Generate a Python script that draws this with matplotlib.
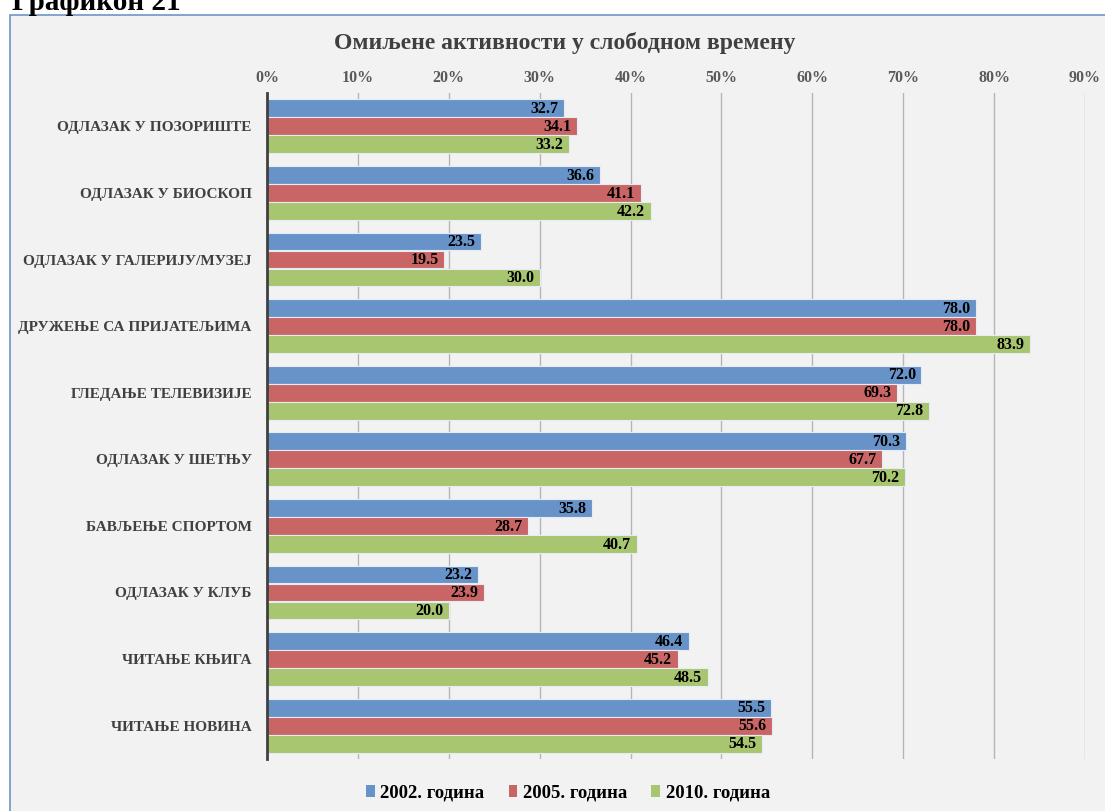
import matplotlib
matplotlib.use("Agg")
import matplotlib.pyplot as plt
from matplotlib.patches import Rectangle, Patch
from matplotlib.ticker import FuncFormatter
import numpy as np

plt.rcParams['font.family'] = ['Liberation Serif', 'DejaVu Serif']

categories = ["ОДЛАЗАК У ПОЗОРИШТЕ", "ОДЛАЗАК У БИОСКОП", "ОДЛАЗАК У ГАЛЕРИЈУ/МУЗЕЈ",
              "ДРУЖЕЊЕ СА ПРИЈАТЕЉИМА", "ГЛЕДАЊЕ ТЕЛЕВИЗИЈЕ", "ОДЛАЗАК У ШЕТЊУ",
              "БАВЉЕЊЕ СПОРТОМ", "ОДЛАЗАК У КЛУБ", "ЧИТАЊЕ КЊИГА", "ЧИТАЊЕ НОВИНА"]
series_names = ["2002. година", "2005. година", "2010. година"]
v2002 = [32.7, 36.6, 23.5, 78.0, 72.0, 70.3, 35.8, 23.2, 46.4, 55.5]
v2005 = [34.1, 41.1, 19.5, 78.0, 69.3, 67.7, 28.7, 23.9, 45.2, 55.6]
v2010 = [33.2, 42.2, 30.0, 83.9, 72.8, 70.2, 40.7, 20.0, 48.5, 54.5]
xticks = [0, 10, 20, 30, 40, 50, 60, 70, 80, 90]
title = "Омиљене активности у слободном времену"
heading = "Графикон 21"

colors = ["#6893c8", "#c96565", "#a8c56f"]

W, H = 1105, 811
fig = plt.figure(figsize=(W / 100, H / 100), dpi=100)
fig.patch.set_facecolor("white")

# chart box
box = Rectangle((10 / W, -0.05), 1.2, (H - 15) / H + 0.05, transform=fig.transFigure,
                facecolor="#f2f2f2", edgecolor="#6f95c9", linewidth=1.2, zorder=-5)
fig.patches.append(box)

fig.text(12 / W, 1 - 10 / H, heading, fontsize=21, fontweight="bold", color="black",
         ha="left", va="baseline")
fig.text(565 / W, 1 - 43 / H, title, fontsize=17, fontweight="bold", color="#404040",
         ha="center", va="center")

left, right = 267 / W, 1085 / W
top, bottom = 1 - 93 / H, 1 - 759 / H
ax = fig.add_axes([left, bottom, right - left, top - bottom], zorder=2)
ax.set_facecolor("none")

n = len(categories)
y = np.arange(n)
bh = 0.265
offs = [-0.27, 0.0, 0.27]
for vals, off, c in zip([v2002, v2005, v2010], offs, colors):
    bars = ax.barh(y + off, vals, height=bh, color=c, edgecolor="#e6ecf5", linewidth=0.8, zorder=3)
    for b, v in zip(bars, vals):
        ax.annotate(f"{v:.1f}", (v, b.get_y() + b.get_height() / 2), xytext=(-4, -0.5),
                    textcoords="offset points", ha="right", va="center",
                    fontsize=11.5, fontweight="bold", color="black", zorder=4)

ax.set_xlim(0, 90)
ax.set_ylim(n - 0.5, -0.5)
ax.set_yticks(y)
ax.set_yticklabels(categories, fontsize=11, fontweight="bold", color="#404040")
ax.set_xticks(xticks)
ax.xaxis.set_major_formatter(FuncFormatter(lambda v, p: f"{int(v)}%"))
ax.xaxis.tick_top()
for lab in ax.get_xticklabels():
    lab.set_fontweight("bold")
ax.tick_params(axis="x", colors="#595959", labelsize=11.5, length=0, pad=5)
ax.tick_params(axis="y", length=0, pad=11)
ax.grid(axis="x", color="#b5b5b5", linewidth=1.0, zorder=1)
for s in ["top", "right", "bottom"]:
    ax.spines[s].set_visible(False)
ax.spines["left"].set_color("#404040")
ax.spines["left"].set_linewidth(2)
ax.spines["left"].set_zorder(5)

handles = [Patch(facecolor=c, edgecolor="none") for c in colors]
fig.legend(handles, series_names, loc="center", bbox_to_anchor=(568 / W, 1 - 793 / H),
           ncol=3, frameon=False, prop={"weight": "bold", "size": 13.5},
           handlelength=0.45, handleheight=0.55, handletextpad=0.3, columnspacing=1.3)

fig.savefig("out.png", dpi=100)
